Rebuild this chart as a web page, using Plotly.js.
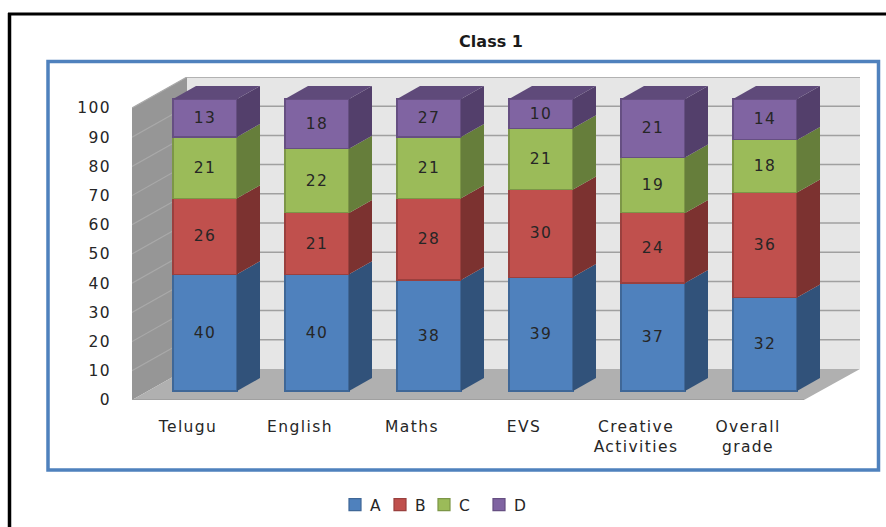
<!DOCTYPE html>
<html><head><meta charset="utf-8">
<script src="https://cdn.plot.ly/plotly-3.0.1.min.js"></script>
<style>html,body{margin:0;padding:0;background:#fff}#c{width:886px;height:527px}
#c text{letter-spacing:1.4px}
#c .gtitle{letter-spacing:0}
#c .legend .traces .legendtext{transform:translateX(-5px)}
#c .legend .traces:nth-child(2) .legendpoints{transform:translateX(-3px)}
#c .legend .traces:nth-child(2) .legendtext{transform:translateX(-8px)}
#c .legend .traces:nth-child(3) .legendpoints{transform:translateX(-7px)}
#c .legend .traces:nth-child(3) .legendtext{transform:translateX(-12px)}
</style></head><body><div id="c"></div>
<script>
const categories=["Telugu","English","Maths","EVS","Creative<br>Activities","Overall<br>grade"];
const seriesNames=["A","B","C","D"];
const valuesA=[40,40,38,39,37,32];
const valuesB=[26,21,28,30,24,36];
const valuesC=[21,22,21,21,19,18];
const valuesD=[13,17,13,10,20,14];   // drawn heights of the top segment
const labelsA=valuesA, labelsB=valuesB, labelsC=valuesC;
const labelsD=[13,18,27,10,21,14];   // printed labels differ from drawn heights in the source
const yTicks=[0,10,20,30,40,50,60,70,80,90,100];
const frontColors=["#4F81BD","#C0504D","#9BBB59","#8064A2"];
const edgeColors=["#3f6797","#9a403e","#7c9647","#664f82"];
const sideColors=["#31527a","#7c3230","#667e3b","#533f6b"];
const topColor="#5f4a7a";

const W=728,H=323,L=132,T=77;
const pxPerX=112,pxPerY=2.92,firstBarPx=205;
const xOf=p=>(p-firstBarPx)/pxPerX;
const yOf=p=>(T+H-p)/pxPerY;
const paperX=p=>(p-L)/W, paperY=p=>(T+H-p)/H;
const barWidth=64/pxPerX, depthX=23/pxPerX, depthY=13/pxPerY, lift=9/pxPerY;
const xIdx=categories.map((_,i)=>i);
const series=[valuesA,valuesB,valuesC,valuesD];
const labels=[labelsA,labelsB,labelsC,labelsD];
const font={family:"DejaVu Sans",size:15.5,color:"#262626"};
const traces=[];
series.forEach((vals,s)=>{
  traces.push({type:"bar",name:seriesNames[s],x:xIdx,y:vals,width:barWidth,xaxis:"x",yaxis:"y2",
    marker:{color:frontColors[s],line:{color:edgeColors[s],width:1.2}},
    text:labels[s].map(String),textposition:"inside",insidetextanchor:"middle",textangle:0,
    constraintext:"none",textfont:font,hoverinfo:"skip"});
});
// 3-D side and top faces derived from the same values
xIdx.forEach(i=>{
  let base=0;
  series.forEach((vals,s)=>{
    const x1=i+barWidth/2,t=base+vals[i];
    traces.push({type:"scatter",mode:"lines",x:[x1,x1+depthX,x1+depthX,x1,x1],
      y:[base,base+depthY,t+depthY,t,base],fill:"toself",fillcolor:sideColors[s],
      line:{width:0},xaxis:"x",yaxis:"y2",showlegend:false,hoverinfo:"skip"});
    base=t;
  });
  const x0=i-barWidth/2,x1=i+barWidth/2;
  traces.push({type:"scatter",mode:"lines",x:[x0,x1,x1+depthX,x0+depthX,x0],
    y:[base,base,base+depthY,base+depthY,base],fill:"toself",fillcolor:topColor,
    line:{width:0},xaxis:"x",yaxis:"y2",showlegend:false,hoverinfo:"skip"});
});
const poly=(pts,fill,line)=>({type:"path",xref:"x",yref:"y",layer:"below",
  path:"M"+pts.map(p=>xOf(p[0])+","+yOf(p[1])).join("L")+"Z",fillcolor:fill,
  line:line||{width:0}});
const shapes=[
  poly([[187,77],[860,77],[860,369],[187,369]],"#e6e6e6"),
  poly([[132,108],[187,77],[187,369],[132,400]],"#969696"),
  poly([[132,400],[804,400],[860,369],[187,369]],"#b0b0b0")
];
yTicks.forEach(v=>{
  const py=400-v*pxPerY;
  if(v>0) shapes.push({type:"line",xref:"x",yref:"y",layer:"below",x0:xOf(132),y0:v,x1:xOf(187),y1:yOf(py-31),line:{color:"#a9a9a9",width:1.2}});
  if(v>0) shapes.push({type:"line",xref:"x",yref:"y",layer:"below",x0:xOf(187),y0:yOf(py-31),x1:xOf(860),y1:yOf(py-31),line:{color:"#a0a0a0",width:1.5}});
});
shapes.push({type:"line",xref:"x",yref:"y",layer:"below",x0:xOf(132),y0:0,x1:xOf(804),y1:0,line:{color:"#a0a0a0",width:2}});
// frames
shapes.push({type:"rect",xref:"paper",yref:"paper",x0:paperX(48),x1:paperX(878.5),y0:paperY(61.5),y1:paperY(470),line:{color:"#4F81BD",width:3.5},layer:"below"});
shapes.push({type:"line",xref:"paper",yref:"paper",x0:paperX(9.5),x1:paperX(9.5),y0:paperY(13),y1:paperY(530),line:{color:"#000",width:3.5}});
shapes.push({type:"line",xref:"paper",yref:"paper",x0:paperX(8),x1:paperX(890),y0:paperY(14),y1:paperY(14),line:{color:"#000",width:3}});

const layout={width:886,height:527,autosize:false,paper_bgcolor:"#fff",plot_bgcolor:"rgba(0,0,0,0)",
  margin:{l:L,r:886-L-W,t:T,b:527-T-H},barmode:"stack",showlegend:true,font:font,
  title:{text:"<b>Class 1</b>",xref:"container",yref:"container",x:491/886,y:1-41/527,xanchor:"center",yanchor:"middle",
    font:{family:"DejaVu Sans",size:16,color:"#1a1a1a"}},
  xaxis:{range:[xOf(L),xOf(L+W)],tickvals:xIdx.map(i=>i-17/pxPerX),ticktext:categories,showgrid:false,zeroline:false,showline:false,ticks:"",ticklabelstandoff:15,tickfont:font,fixedrange:true},
  yaxis:{range:[0,H/pxPerY],tickvals:yTicks,ticktext:yTicks.map(String),showgrid:false,zeroline:false,showline:false,ticks:"",ticklabelstandoff:20,tickfont:font,fixedrange:true},
  yaxis2:{range:[-lift,H/pxPerY-lift],overlaying:"y",side:"left",visible:false,fixedrange:true},
  legend:{orientation:"h",xref:"container",yref:"container",x:335/886,xanchor:"left",y:1-505/527,yanchor:"middle",font:font,traceorder:"normal",itemclick:false,itemdoubleclick:false,bgcolor:"rgba(0,0,0,0)",entrywidth:3,entrywidthmode:"pixels"},
  shapes:shapes};
Plotly.newPlot("c",traces,layout,{displayModeBar:false,staticPlot:true});
</script></body></html>
